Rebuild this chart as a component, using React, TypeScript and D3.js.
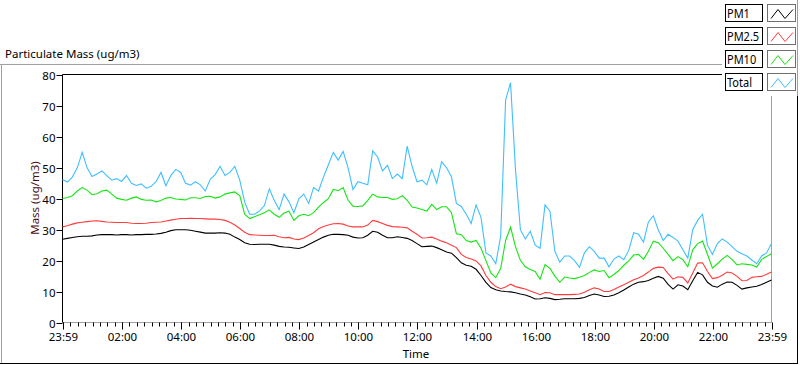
import React, { useRef, useEffect } from "react";
import * as d3 from "d3";

// readings every 10 minutes, 23:59 -> 23:59
const pm1 = [
  26.9, 27.2, 27.5, 27.7, 27.9, 27.9, 28.0, 28.3, 28.4, 28.4, 28.4, 28.3,
  28.4, 28.4, 28.3, 28.4, 28.4, 28.5, 28.5, 28.6, 28.8, 29.2, 29.7, 30.0,
  30.0, 30.0, 29.8, 29.5, 29.2, 28.9, 28.9, 28.9, 29.0, 28.9, 28.5, 27.6,
  26.8, 25.8, 25.3, 25.2, 25.3, 25.3, 25.3, 25.0, 24.6, 24.4, 24.3, 24.1,
  23.9, 24.4, 25.2, 26.0, 26.8, 27.6, 28.2, 28.5, 28.5, 28.4, 28.2, 27.6,
  27.3, 27.4, 28.2, 29.5, 29.2, 28.2, 27.4, 27.4, 27.7, 27.5, 27.2, 26.5,
  25.5, 24.5, 24.6, 24.7, 24.2, 23.5, 22.8, 22.4, 21.0, 19.3, 18.5, 18.2,
  17.2, 15.2, 13.0, 11.3, 10.6, 10.2, 10.0, 9.9, 9.6, 9.2, 8.9, 8.3,
  7.6, 7.7, 8.0, 7.8, 7.4, 7.5, 7.7, 7.7, 7.7, 7.8, 8.1, 8.7,
  9.2, 8.9, 8.4, 8.5, 8.9, 9.6, 10.5, 11.5, 12.4, 13.0, 13.2, 13.6,
  14.3, 14.9, 14.3, 12.3, 10.8, 12.2, 11.8, 10.6, 13.5, 16.2, 15.4, 13.0,
  11.8, 11.4, 12.4, 13.1, 13.0, 12.0, 10.8, 11.2, 11.5, 11.7, 12.3, 13.0,
  13.7,
];

const pm25 = [
  30.9, 31.3, 31.8, 32.2, 32.4, 32.6, 32.8, 32.9, 32.7, 32.5, 32.4, 32.3,
  32.3, 32.3, 32.1, 32.0, 32.0, 32.1, 32.3, 32.4, 32.5, 32.8, 33.1, 33.4,
  33.6, 33.6, 33.7, 33.6, 33.6, 33.5, 33.4, 33.4, 33.3, 33.0, 32.4, 31.5,
  30.4, 29.2, 28.4, 28.3, 28.2, 28.1, 28.1, 28.2, 27.7, 27.4, 27.5, 27.0,
  26.8, 27.3, 28.1, 29.0, 30.3, 31.0, 31.5, 31.9, 32.0, 31.8, 31.2, 30.9,
  30.9, 30.9, 31.5, 33.0, 32.6, 32.0, 31.4, 31.0, 30.9, 30.8, 30.6, 29.5,
  28.5, 27.3, 27.4, 27.6, 27.0, 26.3, 25.8, 25.0, 24.2, 22.0, 21.0, 20.5,
  19.9, 18.3, 15.2, 13.0, 11.6, 10.9, 11.5, 12.4, 11.6, 11.2, 10.8, 10.2,
  9.6, 9.0, 9.7, 9.6, 9.0, 9.0, 9.0, 9.0, 9.1, 9.2, 9.8, 10.6,
  11.2, 10.8, 10.0, 10.0, 10.7, 11.5, 12.2, 13.0, 13.8, 14.4, 15.2, 16.3,
  17.5, 17.9, 17.8, 15.8, 14.0, 14.8, 14.6, 12.8, 16.0, 19.2, 19.3, 16.5,
  14.2, 14.5, 15.3, 16.3, 16.0, 14.9, 13.5, 13.6, 14.6, 14.8, 14.9, 15.6,
  16.3,
];

const pm10 = [
  40.1, 40.4, 41.0, 42.5, 43.6, 42.8, 41.3, 41.6, 42.5, 42.8, 41.5, 40.2,
  39.8, 39.5, 40.2, 40.6, 39.8, 39.5, 39.6, 39.0, 39.4, 40.2, 40.4, 39.9,
  39.8, 39.6, 40.3, 40.3, 40.1, 40.7, 40.8, 40.2, 40.6, 41.5, 41.9, 42.2,
  41.0, 35.0, 33.6, 34.2, 34.8, 35.5, 36.4, 35.0, 34.0, 35.4, 36.0, 33.0,
  34.5, 35.0, 34.5, 35.5, 37.3, 38.8, 40.0, 43.0, 42.6, 43.6, 39.5, 37.6,
  37.5, 37.7, 39.5, 41.5, 40.6, 40.4, 40.4, 39.8, 40.0, 41.0, 39.5, 37.3,
  37.0, 36.5, 36.0, 38.2, 36.5, 37.4, 37.4, 35.5, 28.7, 28.4, 26.5, 26.0,
  26.5, 24.0, 20.0, 16.0, 14.5, 17.5, 26.5, 30.8, 24.5, 20.1, 18.0, 17.1,
  16.5, 14.0, 18.7, 17.5, 15.0, 13.0, 14.7, 14.4, 14.2, 14.6, 15.2, 16.2,
  17.0, 16.5, 16.8, 14.5, 15.5, 16.8, 18.5, 19.9, 21.8, 22.0, 20.4, 23.0,
  26.3, 25.8, 24.0, 22.0, 20.0, 21.3, 20.3, 18.0, 23.5, 25.5, 26.3, 22.0,
  17.6, 19.0, 20.5, 21.7, 20.3, 18.6, 19.0, 18.8, 18.6, 17.9, 20.4, 21.3,
  22.2,
];

const total = [
  46.2, 45.4, 47.0, 50.0, 55.0, 50.0, 47.2, 48.0, 49.0, 47.5, 46.0, 46.5,
  45.6, 47.5, 45.0, 44.3, 44.8, 43.4, 44.0, 45.5, 48.5, 44.2, 47.5, 49.5,
  48.5, 45.0, 44.4, 45.5, 44.5, 42.5, 46.3, 47.8, 50.5, 47.5, 48.5, 50.5,
  46.0, 39.0, 35.0, 35.0, 36.0, 37.8, 43.2, 39.5, 36.5, 41.5, 39.0, 35.5,
  40.0, 41.5, 38.5, 43.6, 42.5, 47.0, 51.0, 55.0, 52.5, 55.3, 50.0, 43.0,
  45.5, 45.0, 44.5, 55.5, 53.5, 49.0, 50.8, 46.5, 48.0, 46.5, 57.0, 50.5,
  45.5, 46.0, 44.5, 49.5, 45.0, 52.0, 50.0, 47.1, 38.5, 37.5, 35.0, 32.0,
  38.0, 34.0, 22.5, 21.5, 19.0, 28.0, 72.0, 77.5, 49.5, 30.0, 27.0, 29.5,
  25.0, 24.0, 38.0, 36.0, 23.0, 19.5, 21.5, 21.5, 20.0, 17.8, 22.5, 24.5,
  23.0, 20.8, 20.8, 18.0, 20.5, 21.5, 20.3, 23.3, 29.0, 28.5, 26.0, 32.5,
  34.5, 30.0, 26.5, 28.5, 27.5, 26.3, 23.5, 20.8, 30.0, 33.0, 35.0, 25.0,
  22.0, 25.5, 27.0, 26.0, 24.5, 23.0, 22.2, 21.5, 20.2, 19.0, 21.5, 22.5,
  25.5,
];

const seriesNames = ["PM1", "PM2.5", "PM10", "Total"];
const seriesColors = ["#000000", "#ff3c3c", "#14e614", "#40bfff"];
const yTicks = [0, 10, 20, 30, 40, 50, 60, 70, 80];
const xTickHours = [2, 4, 6, 8, 10, 12, 14, 16, 18, 20, 22];

const start = new Date(2020, 0, 1, 23, 59);
const end = new Date(2020, 0, 2, 23, 59);
const times = pm1.map((_, i) => d3.timeMinute.offset(start, i * 10));

const FONT = "'Noto Sans', 'Open Sans', sans-serif";

const Chart = () => {
  const ref = useRef(null);

  useEffect(() => {
    const svg = d3.select(ref.current);
    svg.selectAll("*").remove();

    const left = 62.5, right = 771.5, top = 74.5, bottom = 322.5;

    const x = d3.scaleTime().domain([start, end]).range([left, right]);
    const y = d3.scaleLinear().domain([0, 80]).range([bottom, top + 0.5]);

    // outer frame
    svg.append("line").attr("x1", 0).attr("x2", 722).attr("y1", 64.5).attr("y2", 64.5).attr("stroke", "#a0a0a0");
    svg.append("line").attr("x1", 1.5).attr("x2", 1.5).attr("y1", 64.5).attr("y2", 363).attr("stroke", "#a0a0a0");
    svg.append("line").attr("x1", 0).attr("x2", 797.5).attr("y1", 363.5).attr("y2", 363.5).attr("stroke", "#000");
    svg.append("line").attr("x1", 797.5).attr("x2", 797.5).attr("y1", 0).attr("y2", 364).attr("stroke", "#000");

    svg.append("text").attr("x", 5).attr("y", 58).attr("font-family", FONT).attr("font-size", 11.5)
      .attr("fill", "#000").text("Particulate Mass (ug/m3)");

    // plot borders
    svg.append("line").attr("x1", right).attr("x2", right).attr("y1", top).attr("y2", bottom).attr("stroke", "#a0a0a0");
    svg.append("line").attr("x1", left).attr("x2", right).attr("y1", bottom).attr("y2", bottom).attr("stroke", "#a0a0a0");
    svg.append("line").attr("x1", left).attr("x2", right).attr("y1", top).attr("y2", top).attr("stroke", "#000");
    svg.append("line").attr("x1", left).attr("x2", left).attr("y1", top).attr("y2", bottom).attr("stroke", "#000");

    // y axis
    const yAxis = svg.append("g").attr("font-family", FONT).attr("font-size", 11.5);
    yTicks.forEach((t) => {
      const yy = Math.round(y(t)) + 0.5;
      yAxis.append("line").attr("x1", left - 6).attr("x2", left).attr("y1", yy).attr("y2", yy).attr("stroke", "#000");
      yAxis.append("text").attr("x", left - 7).attr("y", yy + 4).attr("text-anchor", "end").attr("fill", "#000").text(t);
    });

    // x axis
    const xAxis = svg.append("g").attr("font-family", FONT).attr("font-size", 11.5);
    const minor = d3.timeMinute.every(15).range(start, end);
    minor.forEach((d) => {
      const xx = Math.round(x(d)) + 0.5;
      xAxis.append("line").attr("x1", xx).attr("x2", xx).attr("y1", bottom).attr("y2", bottom + 4).attr("stroke", "#000");
    });
    const majors = [start, ...xTickHours.map((h) => new Date(2020, 0, 2, h, 0)), end];
    majors.forEach((d, i) => {
      const xx = Math.round(x(d)) + 0.5;
      xAxis.append("line").attr("x1", xx).attr("x2", xx).attr("y1", bottom).attr("y2", bottom + 7).attr("stroke", "#000");
      const label = i === 0 || i === majors.length - 1 ? "23:59" : d3.timeFormat("%H:%M")(d);
      xAxis.append("text").attr("x", xx).attr("y", 341).attr("text-anchor", "middle").attr("fill", "#000").text(label);
    });

    svg.append("text").attr("x", 416).attr("y", 358).attr("text-anchor", "middle").attr("font-family", FONT)
      .attr("font-size", 11.5).attr("fill", "#000").text("Time");
    svg.append("text").attr("transform", "translate(39,198) rotate(-90)").attr("text-anchor", "middle")
      .attr("font-family", FONT).attr("font-size", 11.5).attr("fill", "#4a0c0c").text("Mass (ug/m3)");

    // series
    const line = d3.line().x((d) => x(d[0])).y((d) => y(d[1]));
    [pm1, pm25, pm10, total].forEach((vals, k) => {
      svg.append("path")
        .datum(vals.map((v, i) => [times[i], v]))
        .attr("d", line)
        .attr("fill", "none")
        .attr("stroke", seriesColors[k])
        .attr("stroke-width", 1.1);
    });

    // legend
    const lg = svg.append("g");
    lg.append("rect").attr("x", 722).attr("y", 0).attr("width", 75).attr("height", 96).attr("fill", "#fff");
    lg.append("line").attr("x1", 797.5).attr("x2", 797.5).attr("y1", 0).attr("y2", 96).attr("stroke", "#a0a0a0");
    seriesNames.forEach((name, i) => {
      const ty = 4.5 + i * 23;
      lg.append("rect").attr("x", 725.5).attr("y", ty).attr("width", 37).attr("height", 17)
        .attr("fill", "#fff").attr("stroke", "#000");
      lg.append("text").attr("transform", `translate(727,${ty + 13}) scale(0.88,1)`)
        .attr("font-family", FONT).attr("font-size", 12.5)
        .attr("fill", "#000").text(name);
      lg.append("rect").attr("x", 767.5).attr("y", ty).attr("width", 28).attr("height", 17)
        .attr("fill", "#fff").attr("stroke", "#707070");
      const sx = 769, sy = ty + 3;
      lg.append("polyline")
        .attr("points", [[sx + 2, sy + 11], [sx + 9, sy + 2], [sx + 16, sy + 11], [sx + 24, sy + 2]].map((p) => p.join(",")).join(" "))
        .attr("fill", "none").attr("stroke", seriesColors[i]).attr("stroke-width", 1);
    });
  }, []);

  return (
    <svg
      ref={ref}
      width={800}
      height={365}
      style={{ position: "absolute", left: 0, top: 0, background: "#fff" }}
    />
  );
};

export default function App() {
  return <Chart />;
}
